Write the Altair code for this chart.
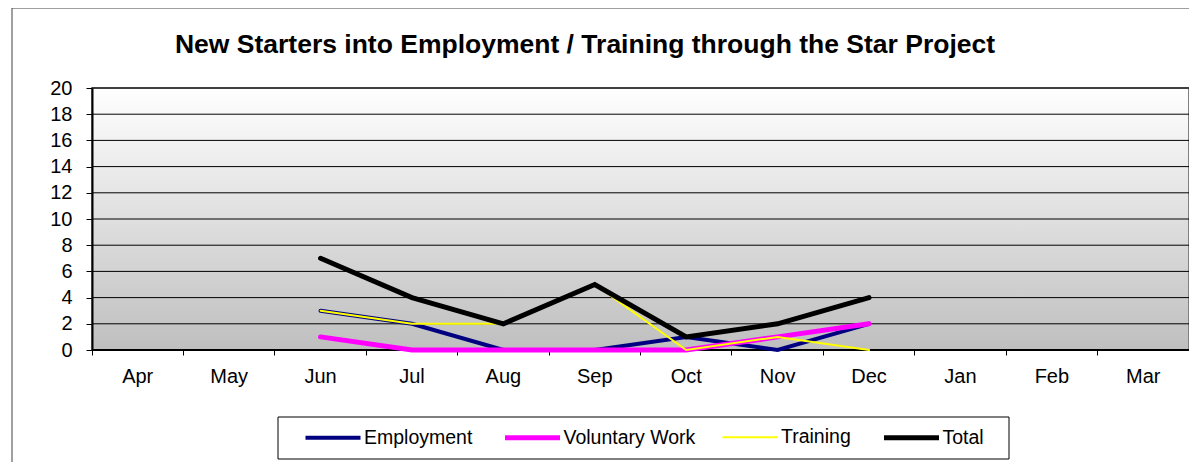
import altair as alt
import pandas as pd

months = ["Apr", "May", "Jun", "Jul", "Aug", "Sep", "Oct", "Nov", "Dec", "Jan", "Feb", "Mar"]
data_months = ["Jun", "Jul", "Aug", "Sep", "Oct", "Nov", "Dec"]
employment = [3, 2, 0, 0, 1, 0, 2]
voluntary = [1, 0, 0, 0, 0, 1, 2]
training = [3, 2, 2, 5, 0, 1, 0]
total = [7, 4, 2, 5, 1, 2, 4]
series_names = ["Employment", "Voluntary Work", "Training", "Total"]
series_colors = ["#000080", "#FF00FF", "#FFFF00", "#000000"]
series_widths = [4, 5, 2, 5]
y_ticks = [0, 2, 4, 6, 8, 10, 12, 14, 16, 18, 20]
title_text = "New Starters into Employment / Training through the Star Project"

rows = []
for name, vals in zip(series_names, [employment, voluntary, training, total]):
    for m, v in zip(data_months, vals):
        rows.append({"month": m, "series": name, "value": v})
df = pd.DataFrame(rows)
grid_df = pd.DataFrame({"v": y_ticks})

FONT = "Liberation Sans"
W, H = 1097, 262

x_scale = alt.Scale(type="band", domain=months, paddingInner=0, paddingOuter=0)
y_scale = alt.Scale(domain=[0, 20], nice=False)

label_axis = alt.Axis(orient="bottom", ticks=False, labels=True, labelFontSize=20,
                      labelPadding=16, labelAngle=0, labelColor="black", labelFont=FONT,
                      domain=False, grid=False, title=None)
tick_axis = alt.Axis(orient="bottom", ticks=True, tickSize=5, tickColor="black", tickWidth=1,
                     bandPosition=0, labels=False, domain=False, grid=False, title=None)

y_axis = alt.Axis(values=y_ticks, labelFontSize=20, labelFont=FONT, labelColor="black",
                  labelPadding=14, tickSize=6, tickColor="black", domainColor="black",
                  domainWidth=2, grid=False, title=None, zindex=1)

legend_def = alt.Legend(
    title=None, orient="none", legendX=227.5, legendY=336, direction="horizontal", columns=4,
    symbolType="M-2.5,0H2.5", symbolSize=484, labelFontSize=19.5, labelFont=FONT,
    labelColor="black", labelOffset=17.5, columnPadding=22.5, padding=0,
)

color_enc = alt.Color("series:N", scale=alt.Scale(domain=series_names, range=series_colors),
                      legend=legend_def)
width_enc = alt.StrokeWidth("series:N",
                            scale=alt.Scale(type="ordinal", domain=series_names, range=series_widths),
                            legend=legend_def)

def line_layer(name, axis):
    return alt.Chart(df).transform_filter(alt.datum.series == name).mark_line(
        strokeCap="round", strokeJoin="miter"
    ).encode(
        x=alt.X("month:N", scale=x_scale, axis=axis),
        y=alt.Y("value:Q", scale=y_scale, axis=y_axis),
        color=color_enc, strokeWidth=width_enc,
    )

background = alt.Chart(alt.Data(values=[{"f": 1}])).mark_rect(
    fill=alt.Gradient(gradient="linear", x1=0, y1=0, x2=0, y2=1,
                      stops=[alt.GradientStop(offset=0, color="#ffffff"),
                             alt.GradientStop(offset=1, color="#bfbfbf")]),
    stroke="#808080", strokeWidth=2,
).encode(x=alt.value(0), x2=alt.value("width"), y=alt.value(0), y2=alt.value("height"))

grid = alt.Chart(grid_df).mark_rule(color="black").encode(
    y=alt.Y("v:Q", scale=y_scale, axis=y_axis),
    strokeWidth=alt.condition(alt.datum.v == 0, alt.value(2), alt.value(1)),
)

frame = alt.Chart(alt.Data(values=[{"f": 1}])).mark_rect(
    fill="transparent", stroke="#404040", strokeWidth=1
).encode(x=alt.value(-80), x2=alt.value(W + 40), y=alt.value(-80), y2=alt.value(H + 160))

legend_box = alt.Chart(alt.Data(values=[{"f": 1}])).mark_rect(
    fill="white", stroke="black", strokeWidth=1
).encode(x=alt.value(186), x2=alt.value(917), y=alt.value(329), y2=alt.value(371))

title_mark = alt.Chart(alt.Data(values=[{"t": title_text}])).mark_text(
    font=FONT, fontSize=26.5, fontWeight="bold", color="black", align="center",
    baseline="alphabetic"
).encode(text="t:N", x=alt.value(493), y=alt.value(-35))

chart = alt.layer(
    frame,
    background,
    grid,
    legend_box,
    title_mark,
    line_layer("Employment", label_axis),
    line_layer("Voluntary Work", tick_axis),
    line_layer("Training", None),
    line_layer("Total", None),
).resolve_axis(x="independent").properties(
    width=W, height=H,
    padding={"left": 84, "top": 80, "right": 0, "bottom": 112},
    autosize=alt.AutoSizeParams(type="none"),
).configure_view(
    stroke=None,
).configure(font=FONT, background="white")

chart.save("out.html", embed_options={"renderer": "svg", "actions": False})
